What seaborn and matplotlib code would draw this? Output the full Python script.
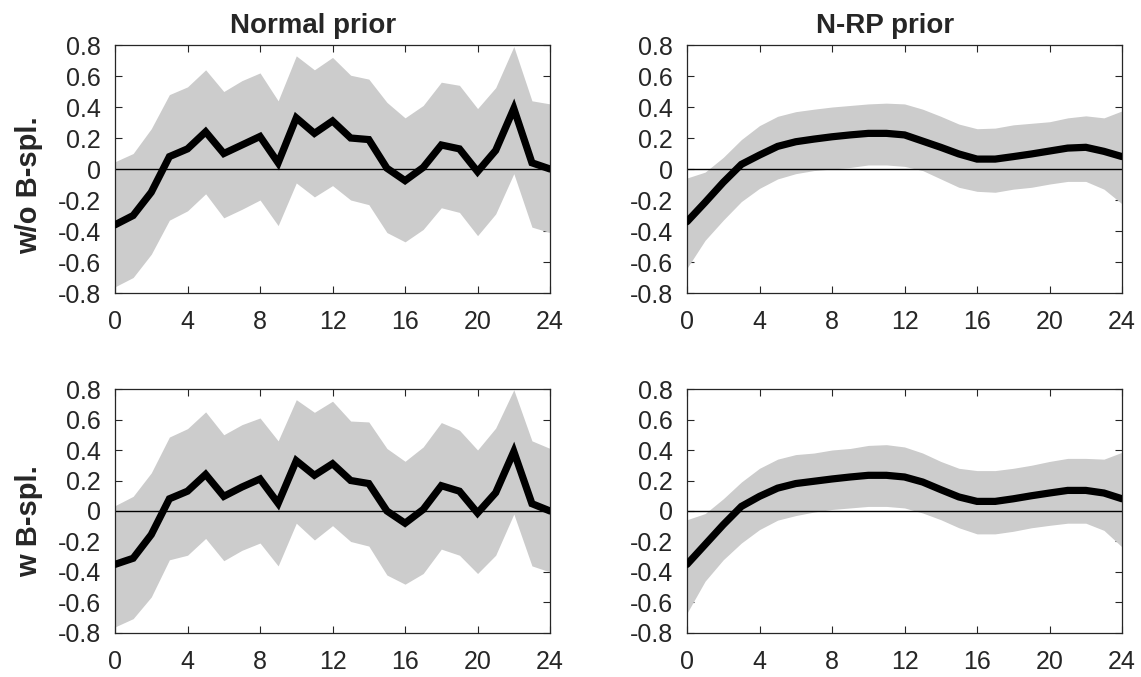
import numpy as np
import pandas as pd
import matplotlib
matplotlib.use("Agg")
import matplotlib.pyplot as plt
import seaborn as sns

hours = list(range(25))

# Normal prior, without B-splines
normal_nob_mean = [-0.36, -0.30, -0.15, 0.08, 0.13, 0.24, 0.10, 0.155, 0.21, 0.04, 0.33, 0.23, 0.31,
                   0.20, 0.19, 0.005, -0.075, 0.01, 0.155, 0.13, -0.017, 0.12, 0.39, 0.04, 0.0]
normal_nob_upper = [0.047, 0.10, 0.26, 0.48, 0.53, 0.64, 0.50, 0.57, 0.62, 0.44, 0.73, 0.64, 0.72,
                    0.605, 0.58, 0.43, 0.33, 0.41, 0.56, 0.54, 0.39, 0.525, 0.79, 0.44, 0.42]
normal_nob_lower = [-0.76, -0.70, -0.55, -0.33, -0.27, -0.16, -0.315, -0.26, -0.20, -0.365, -0.09, -0.18, -0.107,
                    -0.20, -0.23, -0.41, -0.47, -0.39, -0.25, -0.28, -0.43, -0.29, -0.03, -0.375, -0.41]

# Normal prior, with B-splines
normal_b_mean = [-0.35, -0.31, -0.155, 0.08, 0.13, 0.24, 0.096, 0.157, 0.21, 0.05, 0.33, 0.234, 0.31,
                 0.20, 0.18, 0.0, -0.08, 0.01, 0.166, 0.13, -0.013, 0.12, 0.39, 0.048, 0.0]
normal_b_upper = [0.035, 0.096, 0.25, 0.485, 0.54, 0.65, 0.50, 0.566, 0.61, 0.46, 0.73, 0.647, 0.72,
                  0.59, 0.584, 0.41, 0.326, 0.42, 0.58, 0.53, 0.40, 0.544, 0.795, 0.46, 0.41]
normal_b_lower = [-0.76, -0.706, -0.564, -0.32, -0.29, -0.18, -0.326, -0.258, -0.21, -0.36, -0.08, -0.19, -0.096,
                  -0.20, -0.23, -0.42, -0.48, -0.41, -0.25, -0.29, -0.41, -0.29, -0.02, -0.36, -0.40]

# N-RP prior, without B-splines
nrp_nob_mean = [-0.34, -0.215, -0.086, 0.03, 0.09, 0.146, 0.176, 0.193, 0.208, 0.22, 0.23, 0.23, 0.22,
                0.18, 0.14, 0.097, 0.064, 0.064, 0.08, 0.097, 0.116, 0.135, 0.14, 0.114, 0.08]
nrp_nob_upper = [-0.058, -0.02, 0.075, 0.19, 0.28, 0.34, 0.37, 0.386, 0.40, 0.41, 0.42, 0.425, 0.42,
                 0.386, 0.34, 0.29, 0.26, 0.264, 0.285, 0.295, 0.305, 0.33, 0.343, 0.33, 0.375]
nrp_nob_lower = [-0.64, -0.46, -0.33, -0.21, -0.125, -0.064, -0.03, -0.01, 0.0, 0.01, 0.026, 0.026, 0.017,
                 -0.01, -0.064, -0.118, -0.144, -0.15, -0.13, -0.118, -0.097, -0.08, -0.08, -0.13, -0.225]

# N-RP prior, with B-splines
nrp_b_mean = [-0.35, -0.22, -0.09, 0.03, 0.096, 0.15, 0.18, 0.195, 0.21, 0.223, 0.234, 0.234, 0.223,
              0.19, 0.14, 0.092, 0.063, 0.063, 0.08, 0.10, 0.118, 0.135, 0.135, 0.118, 0.08]
nrp_b_upper = [-0.057, -0.017, 0.08, 0.19, 0.28, 0.34, 0.37, 0.38, 0.40, 0.41, 0.43, 0.435, 0.42,
               0.38, 0.325, 0.28, 0.265, 0.265, 0.28, 0.30, 0.325, 0.345, 0.345, 0.34, 0.385]
nrp_b_lower = [-0.67, -0.46, -0.32, -0.21, -0.122, -0.06, -0.03, -0.007, 0.01, 0.02, 0.03, 0.03, 0.02,
               -0.013, -0.057, -0.11, -0.15, -0.15, -0.133, -0.11, -0.094, -0.08, -0.08, -0.127, -0.236]

col_titles = ["Normal prior", "N-RP prior"]
row_labels = ["w/o B-spl.", "w B-spl."]
x_ticks = [0, 4, 8, 12, 16, 20, 24]
y_ticks = [-0.8, -0.6, -0.4, -0.2, 0, 0.2, 0.4, 0.6, 0.8]

panels = [
    [(normal_nob_mean, normal_nob_lower, normal_nob_upper), (nrp_nob_mean, nrp_nob_lower, nrp_nob_upper)],
    [(normal_b_mean, normal_b_lower, normal_b_upper), (nrp_b_mean, nrp_b_lower, nrp_b_upper)],
]

sns.set_theme(style="ticks")
plt.rcParams["font.family"] = ["Liberation Sans", "DejaVu Sans"]
plt.rcParams["axes.unicode_minus"] = False

fig = plt.figure(figsize=(11.41, 6.77), dpi=100)

lefts = [0.1008, 0.6021]
bottoms = [0.5672, 0.065]
heights = [0.3663, 0.3604]
width = 0.3813
label_y = [0.435, 0.459]

for r in range(2):
    for c in range(2):
        ax = fig.add_axes([lefts[c], bottoms[r], width, heights[r]])
        mean, lower, upper = panels[r][c]
        df = pd.DataFrame({"hour": hours, "mean": mean, "lower": lower, "upper": upper})
        ax.fill_between(df["hour"], df["lower"], df["upper"], color="#cccccc", linewidth=0, zorder=1)
        ax.axhline(0, color="black", linewidth=1.0, zorder=2)
        sns.lineplot(data=df, x="hour", y="mean", ax=ax, color="black", linewidth=5.2,
                     solid_joinstyle="miter", zorder=3)
        ax.set_xlim(0, 24)
        ax.set_ylim(-0.8, 0.8)
        ax.set_xticks(x_ticks)
        ax.set_yticks(y_ticks)
        ax.set_xticklabels([f"{v:g}" for v in x_ticks])
        ax.set_yticklabels([f"{v:g}" for v in y_ticks])
        ax.set_xlabel("")
        ax.set_ylabel("")
        ax.tick_params(direction="in", length=5, width=0.8, colors="#262626",
                       labelsize=18, top=True, right=True, labelcolor="#262626")
        ax.tick_params(axis="x", pad=12)
        ax.tick_params(axis="y", pad=10)
        for s in ax.spines.values():
            s.set_visible(True)
            s.set_color("#262626")
            s.set_linewidth(0.9)
        if r == 0:
            ax.set_title(col_titles[c], fontsize=20, fontweight="bold", x=0.455, pad=8.5)
        if c == 0:
            ax.set_ylabel(row_labels[r], fontsize=21, fontweight="bold")
            ax.yaxis.set_label_coords(-0.165, label_y[r])

fig.savefig("out.png", dpi=100)
